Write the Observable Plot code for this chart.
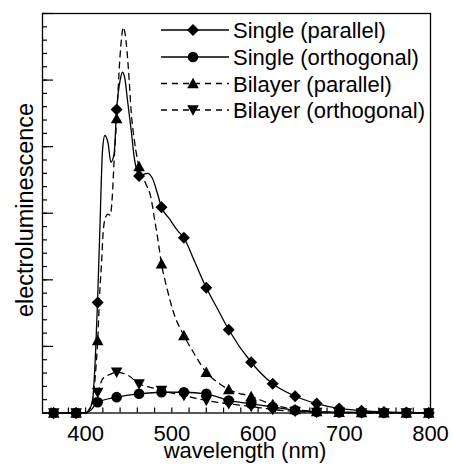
<!DOCTYPE html>
<html>
<head>
<meta charset="utf-8">
<script src="https://cdn.jsdelivr.net/npm/d3@7"></script>
<script src="https://cdn.jsdelivr.net/npm/@observablehq/plot@0.6"></script>
<style>
  html, body { margin: 0; padding: 0; background: #fff; }
  #chart { width: 453px; height: 466px; position: relative; }
</style>
</head>
<body>
<div id="chart"></div>
<script>
// ---------- data ----------
const seriesNames = ["Single (parallel)", "Single (orthogonal)", "Bilayer (parallel)", "Bilayer (orthogonal)"];
const xLabel = "wavelength (nm)";
const yLabel = "electroluminescence";
const xTickLabels = [400, 500, 600, 700, 800];
const xMinorTicks = [360, 380, 400, 420, 440, 460, 480, 500, 520, 540, 560, 580, 600, 620, 640, 660, 680, 700, 720, 740, 760, 780];
const yMinorTicks = [0,1,2,3,4,5,6,7,8,9,10,11,12,13,14,15,16,17,18,19,20,21,22,23,24,25,26,27,28,29,30];
const yMajorTicks = [0, 5, 10, 15, 20, 25, 30];

// sampled points carrying the markers
const markerNm = [363, 389, 414, 436, 462, 488, 514, 540, 566, 592, 617, 643, 668, 694, 720, 746, 772, 798];
const singleParMarkers  = [0, 0, 8.3, 22.8, 17.8, 15.45, 13.16, 9.4, 6.25, 3.81, 2.19, 1.26, 0.71, 0.34, 0.17, 0.08, 0.04, 0];
const singleOrthMarkers = [0, 0, 0.81, 1.19, 1.44, 1.56, 1.56, 1.44, 0.94, 0.69, 0.45, 0.2, 0.1, 0.06, 0.04, 0.02, 0.01, 0];
const bilayerParMarkers = [0, 0, 5.44, 22.1, 18.5, 11.2, 5.82, 3.06, 1.76, 1.24, 0.64, 0.26, 0.11, 0.05, 0.02, 0.01, 0, 0];
const bilayerOrthMarkers= [0, 0, 1.54, 3.06, 2.19, 1.69, 1.31, 0.94, 0.69, 0.49, 0.26, 0.12, 0.05, 0.02, 0.01, 0, 0, 0];

// full spectra (dense curves)
const singleParNm  = [363, 389, 400, 404, 408, 411.8, 413.8, 416.5, 419.6, 422.3, 426.1, 429.3, 433.1, 436, 440, 442.8, 445.5, 448.6, 453.3, 456.3, 459.4, 462, 466.4, 471.8, 477.6, 483.4, 488, 496.9, 506.7, 514, 525.9, 540, 553.4, 566, 592, 617, 643, 668, 694, 720, 746, 772, 798];
const singleParVal = [0, 0, 0, 0.2, 0.94, 4.94, 8.32, 13.7, 19.7, 20.84, 20.24, 18.83, 19.49, 22.8, 24.97, 25.59, 25.12, 23.47, 20.99, 19.21, 18.21, 17.8, 17.9, 18.0, 17.61, 16.46, 15.45, 14.61, 13.7, 13.16, 11.45, 9.4, 7.77, 6.25, 3.81, 2.19, 1.26, 0.71, 0.34, 0.17, 0.08, 0.04, 0];

const bilayerParNm  = [363, 389, 400, 405, 408, 411.5, 414, 416.5, 418.5, 420.5, 423.5, 426, 428.5, 431, 433, 436, 439.5, 442, 443.5, 445.5, 448, 450.5, 453, 456.5, 458.3, 462, 469.9, 475.7, 479.6, 483.4, 488, 495, 502.5, 514, 526, 540, 553, 566, 592, 617, 643, 668, 694, 720, 746, 772, 798];
const bilayerParVal = [0, 0, 0, 0.3, 0.9, 3.0, 5.44, 9.2, 11.3, 13.7, 14.76, 14.94, 14.85, 16.3, 18.9, 22.1, 26.4, 28.35, 28.97, 28.6, 27.2, 25.0, 22.5, 20.5, 19.7, 18.5, 17.2, 16.2, 14.7, 13.2, 11.2, 9.2, 7.45, 5.82, 4.45, 3.06, 2.31, 1.76, 1.24, 0.64, 0.26, 0.11, 0.05, 0.02, 0.01, 0, 0];

const singleOrthNm  = [363, 389, 400, 406, 414, 436, 462, 488, 514, 540, 566, 592, 617, 643, 668, 694, 720, 746, 772, 798];
const singleOrthVal = [0, 0, 0, 0.2, 0.81, 1.19, 1.44, 1.56, 1.56, 1.44, 0.94, 0.69, 0.45, 0.2, 0.1, 0.06, 0.04, 0.02, 0.01, 0];

const bilayerOrthNm  = [363, 389, 400, 407, 414, 420, 428, 436, 450, 462, 476, 488, 514, 540, 566, 592, 617, 643, 668, 694, 720, 746, 772, 798];
const bilayerOrthVal = [0, 0, 0, 0.6, 1.54, 2.59, 2.89, 3.06, 2.8, 2.19, 1.91, 1.69, 1.31, 0.94, 0.69, 0.49, 0.26, 0.12, 0.05, 0.02, 0, 0, 0, 0];

// ---------- build tables ----------
const zip = (xs, ys) => xs.map((x, i) => ({x, y: ys[i]}));
const markersSP = zip(markerNm, singleParMarkers);
const markersSO = zip(markerNm, singleOrthMarkers);
const markersBP = zip(markerNm, bilayerParMarkers);
const markersBO = zip(markerNm, bilayerOrthMarkers);
const lineSP = zip(singleParNm, singleParVal);
const lineSO = zip(singleOrthNm, singleOrthVal);
const lineBP = zip(bilayerParNm, bilayerParVal);
const lineBO = zip(bilayerOrthNm, bilayerOrthVal);

// ---------- marker symbols ----------
const R = s => Math.sqrt(s / Math.PI);
const symDiamond = {draw(c, s) { const r = R(s); c.moveTo(0, -r); c.lineTo(r, 0); c.lineTo(0, r); c.lineTo(-r, 0); c.closePath(); }};
const symCircle  = {draw(c, s) { const r = R(s); c.moveTo(r, 0); c.arc(0, 0, r, 0, 2 * Math.PI); c.closePath(); }};
const symUp      = {draw(c, s) { const r = R(s); c.moveTo(0, -r); c.lineTo(r, r * 0.8); c.lineTo(-r, r * 0.8); c.closePath(); }};
const symDown    = {draw(c, s) { const r = R(s); c.moveTo(0, r); c.lineTo(r, -r * 0.8); c.lineTo(-r, -r * 0.8); c.closePath(); }};
const symbols = [symDiamond, symCircle, symUp, symDown];
const symR = [6, 5.3, 5.8, 5.8];
const dashes = [null, null, "6,5", "6,5"];

const FONT = "'Liberation Sans', Arial, Helvetica, sans-serif";
const lineOpts = (dash) => ({x: "x", y: "y", curve: "monotone-x", stroke: "black", strokeWidth: 1.3, strokeDasharray: dash});
const dotOpts = (i) => ({x: "x", y: "y", symbol: symbols[i], r: symR[i], fill: "black", stroke: "none"});

const chart = Plot.plot({
  width: 453,
  height: 466,
  marginLeft: 42,
  marginRight: 23,
  marginTop: 13,
  marginBottom: 53.5,
  style: {fontFamily: FONT, fontSize: "22px", color: "black", background: "white", overflow: "visible"},
  x: {domain: [350, 800]},
  y: {domain: [0, 30]},
  marks: [
    Plot.line(lineSP, lineOpts(null)),
    Plot.line(lineSO, lineOpts(null)),
    Plot.line(lineBP, lineOpts("6,5")),
    Plot.line(lineBO, lineOpts("6,5")),
    Plot.dot(markersSO, dotOpts(1)),
    Plot.dot(markersBO, dotOpts(3)),
    Plot.dot(markersBP, dotOpts(2)),
    Plot.dot(markersSP, dotOpts(0)),
    Plot.axisX(xMinorTicks, {tickSize: 5, dy: -5, tickFormat: () => "", label: null, stroke: "black", strokeWidth: 1.2}),
    Plot.axisX(xTickLabels, {tickSize: 0, tickPadding: 12, label: null, fontSize: 22, fill: "black"}),
    Plot.axisY(yMinorTicks, {tickSize: 5, dx: 5, tickFormat: () => "", label: null, stroke: "black", strokeWidth: 1.2}),
    Plot.axisY(yMajorTicks, {tickSize: 11, dx: 11, tickFormat: () => "", label: null, stroke: "black", strokeWidth: 1.2}),
    Plot.frame({stroke: "black", strokeWidth: 1.3})
  ]
});
document.getElementById("chart").appendChild(chart);

// ---------- axis titles & legend (layout overlay) ----------
const svg = d3.select(chart);
svg.append("text")
  .attr("x", 245).attr("y", 458)
  .attr("text-anchor", "middle")
  .attr("font-family", FONT).attr("font-size", 22).attr("fill", "black")
  .text(xLabel);
svg.append("text")
  .attr("transform", "translate(32.5,210) rotate(-90)")
  .attr("text-anchor", "middle")
  .attr("font-family", FONT).attr("font-size", 23.5).attr("fill", "black")
  .text(yLabel);

const legendRows = [30, 57, 83.5, 110];
const lg = svg.append("g").attr("text-anchor", "start");
seriesNames.forEach((name, i) => {
  const y = legendRows[i];
  lg.append("line").attr("x1", 161).attr("x2", 229).attr("y1", y).attr("y2", y)
    .attr("stroke", "black").attr("stroke-width", 1.3)
    .attr("stroke-dasharray", dashes[i]);
  lg.append("path")
    .attr("transform", `translate(193,${y})`)
    .attr("d", d3.symbol(symbols[i], symR[i] * symR[i] * Math.PI)())
    .attr("fill", "black");
  lg.append("text").attr("x", 233).attr("y", y + 8)
    .attr("text-anchor", "start")
    .attr("font-family", FONT).attr("font-size", 22).attr("fill", "black")
    .text(name);
});
</script>
</body>
</html>
